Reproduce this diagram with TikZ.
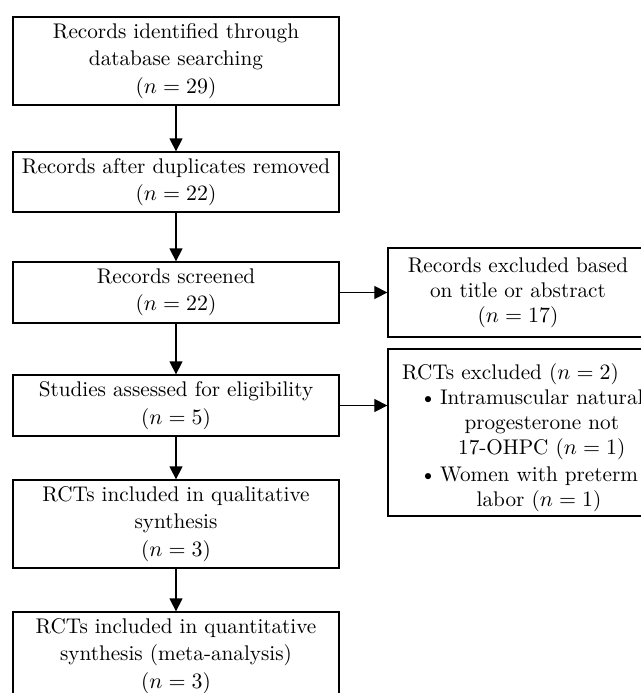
\documentclass[tikz,border=0pt]{standalone}
\usetikzlibrary{arrows.meta}
\begin{document}
\begin{tikzpicture}[x=0.5pt,y=-0.5pt,
  box/.style={draw, line width=0.65pt, inner sep=0pt, align=center,
    minimum width=163pt, font=\fontsize{10.6}{13.75}\selectfont},
  rbox/.style={draw, line width=0.65pt, inner sep=0pt, align=center,
    minimum width=130pt, font=\fontsize{10.6}{12.5}\selectfont},
  arr/.style={line width=0.65pt, -{Triangle[length=6.5pt,width=6.5pt]}}]
\useasboundingbox (0,0) rectangle (641,693);
\node[box, minimum height=44pt] (b1) at (176,61)
  {Records identified through\\database searching\\($n = 29$)};
\node[box, minimum height=30pt] (b2) at (176,182)
  {Records after duplicates removed\\($n = 22$)};
\node[box, minimum height=30.5pt] (b3) at (176,292.5)
  {Records screened\\($n = 22$)};
\node[box, minimum height=30.5pt] (b4) at (176,405.5)
  {Studies assessed for eligibility\\($n = 5$)};
\node[box, minimum height=44pt] (b5) at (176,524)
  {RCTs included in qualitative\\synthesis\\($n = 3$)};
\node[box, minimum height=44pt] (b6) at (176,656)
  {RCTs included in quantitative\\synthesis (meta-analysis)\\($n = 3$)};
\node[rbox, minimum height=44.5pt] (r1) at (518,292.5)
  {Records excluded based\\on title or abstract\\($n = 17$)};
\node[rbox, minimum height=83.5pt, align=left, text width=116pt, inner xsep=7pt] (r2) at (518,432.5)
  {\rule{0pt}{14pt}RCTs excluded ($n = 2$)\\
   \hspace*{9pt}\textbullet\,\begin{tabular}[t]{@{}c@{}}Intramuscular natural\\progesterone not\\17-OHPC ($n = 1$)\end{tabular}\\
   \hspace*{9pt}\textbullet\,\begin{tabular}[t]{@{}c@{}}Women with preterm\\labor ($n = 1$)\end{tabular}};
\draw[arr] (b1) -- (b2);
\draw[arr] (b2) -- (b3);
\draw[arr] (b3) -- (b4);
\draw[arr] (b4) -- (b5);
\draw[arr] (b5) -- (b6);
\draw[arr] (b3.east) -- (r1.west);
\draw[arr] (b4.east) -- (r2.west |- b4.east);
\end{tikzpicture}
\end{document}
